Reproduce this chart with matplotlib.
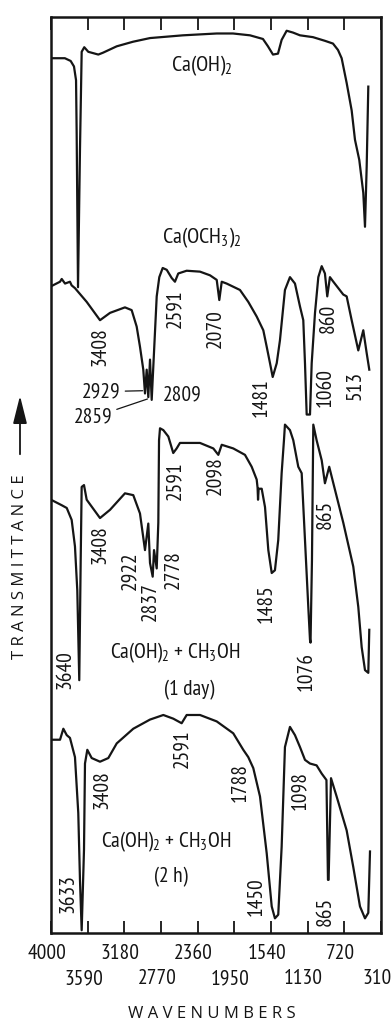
import matplotlib
matplotlib.use("Agg")
import matplotlib.pyplot as plt
from matplotlib import font_manager as fm
from matplotlib.patches import FancyArrowPatch
from matplotlib.transforms import ScaledTranslation

# Pick a narrow sans face for the labels (first one that is installed)
installed = {f.name for f in fm.fontManager.ttflist}
NARROW = next((n for n in ['Liberation Sans Narrow', 'PT Sans Narrow', 'Archivo Narrow',
                           'Roboto Condensed', 'Open Sans Condensed', 'Fira Sans Condensed',
                           'Liberation Sans'] if n in installed), 'DejaVu Sans')

plt.rcParams['font.family'] = [NARROW, 'DejaVu Sans']
plt.rcParams['mathtext.fontset'] = 'custom'
plt.rcParams['mathtext.rm'] = NARROW
plt.rcParams['mathtext.it'] = NARROW

INK = "#151515"

# Axis ticks (wavenumbers)
tick_wn = [4000, 3590, 3180, 2770, 2360, 1950, 1540, 1130, 720, 310]

# Spectra: wavenumber (cm-1) and relative transmittance (stacked, 0-100)
caoh2_wn = [4000, 3845, 3780, 3743, 3720, 3713, 3698, 3676, 3657, 3628, 3583, 3471, 3419,
            3265, 3083, 2893, 2524, 2147, 1965, 1775, 1630, 1574, 1518, 1462, 1421, 1365,
            1294, 1216, 1071, 937, 847, 791, 750, 694, 638, 601, 553, 508, 489, 470, 452]
caoh2_t = [95.5, 95.5, 95.2, 94.6, 93.1, 87.3, 70.5, 85.5, 96.2, 96.7, 96.2, 95.9, 96.1,
           96.8, 97.3, 97.7, 98.0, 98.2, 98.2, 98.0, 97.6, 96.8, 95.9, 96.0, 97.5, 98.5,
           98.3, 98.0, 97.8, 97.4, 97.1, 96.4, 95.5, 92.8, 89.8, 86.6, 84.4, 80.8, 77.1, 83.7, 92.4]

och3_wn = [4000, 3899, 3880, 3843, 3788, 3769, 3732, 3601, 3452, 3340, 3173, 3098, 3042,
           3005, 2968, 2949, 2930, 2912, 2893, 2874, 2818, 2789, 2751, 2706, 2650, 2614,
           2577, 2483, 2334, 2222, 2147, 2118, 2091, 2036, 1887, 1794, 1700, 1626, 1588,
           1551, 1521, 1476, 1440, 1384, 1328, 1272, 1216, 1179, 1160, 1141, 1104, 1085,
           1048, 1011, 973, 937, 911, 881, 843, 732, 694, 638, 564, 508, 470, 441]
och3_t = [70.6, 71.1, 71.4, 70.9, 71.1, 70.7, 70.4, 68.9, 66.9, 67.7, 68.3, 68.0, 66.2,
          64.0, 61.5, 58.9, 61.5, 58.5, 62.6, 58.2, 69.5, 71.6, 72.6, 72.4, 71.5, 71.1,
          72.0, 72.3, 72.2, 71.8, 71.3, 69.1, 71.1, 70.9, 70.2, 68.9, 67.3, 65.8, 64.0,
          62.2, 60.7, 62.2, 64.7, 70.2, 71.6, 70.9, 68.4, 66.9, 62.2, 56.6, 56.6, 62.2,
          67.7, 71.6, 72.8, 72.0, 69.5, 71.6, 71.1, 69.7, 69.5, 66.9, 63.6, 65.8, 63.3, 61.5]

day1_wn = [4000, 3880, 3824, 3769, 3732, 3706, 3684, 3668, 3657, 3631, 3601, 3452, 3340,
           3173, 3080, 3005, 2949, 2912, 2893, 2863, 2848, 2818, 2800, 2792, 2781, 2744,
           2688, 2633, 2595, 2558, 2334, 2185, 2129, 2091, 1962, 1831, 1756, 1700, 1690,
           1685, 1678, 1644, 1607, 1570, 1532, 1496, 1459, 1421, 1395, 1384, 1328, 1291,
           1235, 1197, 1160, 1123, 1104, 1098, 1082, 1067, 1030, 973, 937, 889, 843, 732,
           620, 564, 526, 489, 452, 441]
day1_t = [47.3, 46.7, 46.4, 45.1, 42.2, 37.4, 27.6, 40.7, 48.7, 48.9, 47.3, 45.3, 46.2,
          48.0, 47.8, 45.8, 41.8, 44.7, 40.4, 38.9, 41.8, 39.8, 44.8, 53.8, 55.1, 54.9,
          54.2, 52.4, 52.9, 53.5, 53.5, 52.9, 52.2, 53.3, 52.9, 52.2, 50.9, 49.5, 48.6,
          47.3, 48.5, 48.5, 46.5, 41.8, 39.3, 39.6, 42.9, 50.2, 53.8, 55.5, 54.9, 53.8,
          50.9, 50.2, 42.9, 35.6, 32.0, 31.7, 40.7, 55.5, 53.8, 51.6, 49.1, 50.9, 49.1, 44.8,
          40.0, 35.6, 31.2, 28.7, 28.4, 33.1]

h2_wn = [4000, 3899, 3862, 3824, 3788, 3732, 3695, 3676, 3657, 3631, 3620, 3594, 3545,
         3452, 3359, 3265, 3080, 2893, 2744, 2633, 2539, 2483, 2334, 2147, 1962, 1850,
         1794, 1738, 1663, 1588, 1532, 1496, 1459, 1421, 1384, 1328, 1272, 1216, 1160,
         1104, 1030, 973, 920, 903, 896, 869, 806, 694, 620, 545, 489, 452, 433]
h2_t = [21.1, 21.1, 22.3, 21.6, 21.3, 19.2, 13.1, 5.8, 0.3, 9.1, 18.5, 20.0, 19.1,
        18.7, 19.1, 20.7, 22.3, 23.3, 23.8, 23.4, 22.9, 23.8, 23.8, 23.1, 21.8, 20.0,
        19.2, 18.0, 14.9, 8.7, 2.9, 1.6, 2.0, 9.4, 20.3, 22.5, 21.6, 20.3, 18.9,
        18.5, 18.3, 17.4, 16.7, 5.8, 5.8, 16.9, 14.9, 11.2, 7.2, 2.9, 1.6, 2.2, 8.9]

# Peak labels (text, wavenumber, height)
och3_labels = [("3408", 3452, 64.0), ("2591", 2614, 68.2), ("2070", 2166, 66.0),
               ("1481", 1644, 58.4), ("1060", 937, 59.5), ("860", 899, 67.1),
               ("513", 601, 59.8)]
day1_labels = [("3640", 3843, 28.8), ("3408", 3452, 42.4), ("2922", 3117, 39.6),
               ("2837", 2893, 36.2), ("2778", 2633, 39.7), ("2591", 2614, 49.4),
               ("2098", 2166, 49.9), ("1485", 1588, 36.0), ("1076", 1141, 28.6),
               ("865", 937, 45.7)]
h2_labels = [("3633", 3807, 4.3), ("3408", 3433, 15.7), ("2591", 2539, 20.1),
             ("1788", 1887, 16.4), ("1450", 1700, 4.0), ("1098", 1216, 15.6),
             ("865", 937, 2.4)]

fig = plt.figure(figsize=(3.92, 10.26), dpi=100)
ax = fig.add_axes([51 / 392, 93 / 1026, 330 / 392, 916 / 1026])

for wn, t in [(caoh2_wn, caoh2_t), (och3_wn, och3_t), (day1_wn, day1_t), (h2_wn, h2_t)]:
    ax.plot(wn, t, color=INK, lw=1.6, solid_joinstyle='round')

ax.set_xlim(4000, 310)
ax.set_ylim(0, 100)
ax.set_yticks([])

# two staggered rows of tick labels: major ticks = upper row, minor ticks = lower row
ax.set_xticks(tick_wn[0::2])
ax.set_xticks(tick_wn[1::2], minor=True)
ax.set_xticklabels([str(v) for v in tick_wn[0::2]], fontsize=15.5)
ax.set_xticklabels([str(v) for v in tick_wn[1::2]], minor=True, fontsize=15.5)
ax.tick_params(axis='x', which='both', direction='in', length=9, width=1.3, top=True,
               colors=INK)
ax.tick_params(axis='x', which='major', pad=8)
ax.tick_params(axis='x', which='minor', pad=26)
# labels in the original sit a little left of their ticks
shift = ScaledTranslation(-4 / 100, 0, fig.dpi_scale_trans)
for lab in ax.get_xticklabels(which='both'):
    lab.set_transform(lab.get_transform() + shift)
for s in ax.spines.values():
    s.set_linewidth(1.8)
    s.set_color(INK)

# Rotated peak labels
for labels in [och3_labels, day1_labels, h2_labels]:
    for s, x, y in labels:
        ax.text(x, y, s, rotation=90, ha='center', va='center', fontsize=15.5, color=INK)

# Horizontal labels with leader lines (C-H region of Ca(OCH3)2)
ax.annotate("2929", xy=(2975, 59.2), xytext=(3433, 59.1), ha='center', va='center',
            fontsize=15.5, color=INK,
            arrowprops=dict(arrowstyle='-', color=INK, lw=0.9, shrinkA=1, shrinkB=0))
ax.annotate("2859", xy=(2921, 58.3), xytext=(3527, 56.3), ha='center', va='center',
            fontsize=15.5, color=INK,
            arrowprops=dict(arrowstyle='-', color=INK, lw=0.9, shrinkA=1, shrinkB=0))
ax.text(2530, 58.7, "2809", ha='center', va='center', fontsize=15.5, color=INK)

# Sample names
ax.text(2313, 94.1, "Ca(OH)$_2$", ha='center', va='baseline', fontsize=16, color=INK)
ax.text(2313, 75.3, "Ca(OCH$_3$)$_2$", ha='center', va='baseline', fontsize=16, color=INK)
ax.text(2614, 30.0, "Ca(OH)$_2$ + CH$_3$OH", ha='center', va='baseline', fontsize=15.5, color=INK)
ax.text(2457, 26.0, "(1 day)", ha='center', va='baseline', fontsize=15.5, color=INK)
ax.text(2716, 9.4, "Ca(OH)$_2$ + CH$_3$OH", ha='center', va='baseline', fontsize=15.5, color=INK)
ax.text(2660, 5.5, "(2 h)", ha='center', va='baseline', fontsize=15.5, color=INK)

# Axis titles
fig.text(212 / 392, 1 - 1014 / 1026, "W A V E N U M B E R S", ha='center', va='center',
         fontsize=12, family='Open Sans', color=INK)
fig.text(20 / 392, 1 - 567 / 1026, "T R A N S M I T T A N C E", rotation=90, ha='center',
         va='center', fontsize=12, family='Open Sans', color=INK)
fig.patches.append(FancyArrowPatch((20 / 392, 1 - 457 / 1026), (20 / 392, 1 - 393 / 1026),
                                   transform=fig.transFigure,
                                   arrowstyle='-|>,head_length=1.0,head_width=0.25',
                                   mutation_scale=17, color=INK, lw=1.3))

fig.savefig("out.png", dpi=100)
